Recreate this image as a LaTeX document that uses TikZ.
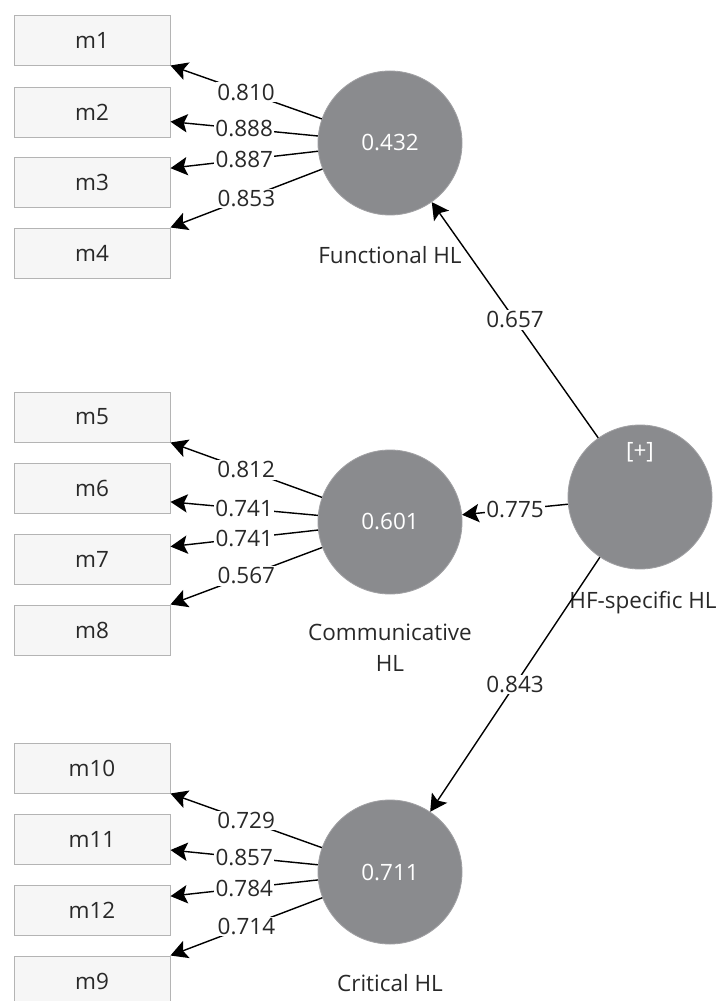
\documentclass[tikz,border=0pt]{standalone}
\usepackage{fontspec}
\setmainfont{Open Sans}
\usepackage{xcolor}
\definecolor{lvgray}{RGB}{138,139,142}
\definecolor{lvedge}{RGB}{160,160,163}
\definecolor{mvfill}{RGB}{246,246,246}
\definecolor{mvedge}{RGB}{180,180,180}
\definecolor{txtdark}{RGB}{40,40,40}
\usetikzlibrary{arrows.meta,positioning}

\begin{document}
\begin{tikzpicture}[
  x=0.25mm, y=-0.25mm,
  every node/.style={font=\fontsize{16}{22}\selectfont,text=txtdark},
  mvbox/.style={draw=mvedge,fill=mvfill,line width=0.7pt,minimum width=39mm,
                minimum height=12.5mm,inner sep=0pt},
  latent/.style={circle,draw=lvedge,fill=lvgray,line width=0.6pt,minimum size=36mm,
                 inner sep=0pt,text=white},
  lvname/.style={align=center},
  load/.style={line width=1pt,black,
               arrows={-Stealth[length=12pt,width=13pt,inset=2.5pt]}},
  val/.style={fill=white,inner sep=1pt,midway},
]
  % frame
  \clip (0,0) rectangle (718,1001);

  % Functional HL block
  \node[mvbox] (m1) at (92,40)  {m1};
  \node[mvbox] (m2) at (92,112) {m2};
  \node[mvbox] (m3) at (92,182) {m3};
  \node[mvbox] (m4) at (92,253) {m4};
  \node[latent] (fhl) at (390,143) {0.432};
  \node[lvname] at (390,255) {Functional HL};

  % Communicative HL block
  \node[mvbox] (m5) at (92,417) {m5};
  \node[mvbox] (m6) at (92,488) {m6};
  \node[mvbox] (m7) at (92,559) {m7};
  \node[mvbox] (m8) at (92,630) {m8};
  \node[latent] (chl) at (390,522) {0.601};
  \node[lvname] at (390,648) {Communicative\\HL};

  % Critical HL block
  \node[mvbox] (m10) at (92,768) {m10};
  \node[mvbox] (m11) at (92,839) {m11};
  \node[mvbox] (m12) at (92,910) {m12};
  \node[mvbox] (m9)  at (92,981) {m9};
  \node[latent] (khl) at (390,872) {0.711};
  \node[lvname] at (390,983) {Critical HL};

  % Second order construct
  \node[latent] (hfs) at (640,497) {};
  \node[text=white] at (640,452) {[+]};

  % Loadings
  \draw[load] (fhl) -- node[val] {0.810} (m1.south east);
  \draw[load] (fhl) -- node[val] {0.888} (m2.-7);
  \draw[load] (fhl) -- node[val] {0.887} (m3.10);
  \draw[load] (fhl) -- node[val] {0.853} (m4.north east);

  \draw[load] (chl) -- node[val] {0.812} (m5.south east);
  \draw[load] (chl) -- node[val] {0.741} (m6.-10);
  \draw[load] (chl) -- node[val] {0.741} (m7.9);
  \draw[load] (chl) -- node[val] {0.567} (m8.north east);

  \draw[load] (khl) -- node[val] {0.729} (m10.south east);
  \draw[load] (khl) -- node[val] {0.857} (m11.-8);
  \draw[load] (khl) -- node[val] {0.784} (m12.10);
  \draw[load] (khl) -- node[val] {0.714} (m9.north east);

  % Paths from HF-specific HL
  \node[lvname] (hfsname) at (643,603) {HF-specific HL};
  \draw[load] (hfs) -- node[val] {0.657} (fhl);
  \draw[load] (hfs) -- node[val] {0.775} (chl);
  \draw[load] (hfs) -- node[val] {0.843} (khl);
\end{tikzpicture}
\end{document}
